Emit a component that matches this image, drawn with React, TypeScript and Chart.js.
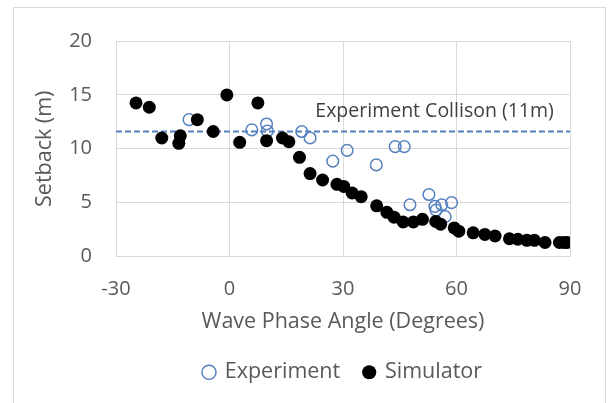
import React, { useEffect, useRef } from "react";
import { Chart, registerables } from "chart.js";

Chart.register(...registerables);

// ---- Data ----
const experimentX = [-10.7, 5.9, 9.8, 10.0, 19.1, 21.3, 27.3, 31.1, 38.8, 43.8, 46.2, 47.7, 52.7, 54.3, 54.6, 56.1, 57.0, 58.7];
const experimentY = [12.7, 11.75, 12.3, 11.65, 11.6, 11.0, 8.85, 9.85, 8.5, 10.2, 10.2, 4.8, 5.75, 4.65, 4.3, 4.8, 3.7, 5.0];

const simulatorX = [-24.7, -21.2, -17.9, -13.4, -13.0, -8.5, -4.3, -0.7, 2.7, 7.5, 9.8, 14.0, 15.7, 18.5, 21.3, 24.6, 28.4, 30.2, 32.4, 34.8, 38.9, 41.6, 43.5, 45.9, 48.6, 51.0, 54.5, 55.8, 59.4, 60.6, 64.4, 67.5, 70.2, 74.0, 76.2, 78.6, 80.6, 83.4, 87.2, 88.4, 89.2];
const simulatorY = [14.25, 13.85, 11.0, 10.5, 11.2, 12.7, 11.6, 15.0, 10.6, 14.25, 10.75, 11.0, 10.65, 9.2, 7.7, 7.1, 6.7, 6.5, 5.9, 5.55, 4.7, 4.1, 3.65, 3.2, 3.2, 3.45, 3.25, 3.0, 2.65, 2.35, 2.2, 2.05, 1.9, 1.65, 1.6, 1.5, 1.5, 1.3, 1.3, 1.3, 1.3];

const xTicks = [-30, 0, 30, 60, 90];
const yTicks = [0, 5, 10, 15, 20];

const collisionLevel = 11.6;
const collisionLineX = [-30, 90];
const collisionLabel = "Experiment Collison (11m)";
const collisionLabelX = 54.2;
const collisionLabelY = 13.45;

const seriesNames = ["Experiment", "Simulator"];
const xTitle = "Wave Phase Angle (Degrees)";
const yTitle = "Setback (m)";

// ---- Styles ----
const FONT = "'Open Sans', 'DejaVu Sans', sans-serif";
const TEXT = "#595959";
const GRID = "#d9d9d9";
const BLUE = "#5580c0";

const decorPlugin = {
  id: "decor",
  beforeDraw(chart: any) {
    const ctx = chart.ctx;
    ctx.save();
    ctx.fillStyle = "#ffffff";
    ctx.fillRect(0, 0, chart.width, chart.height);
    ctx.strokeStyle = GRID;
    ctx.lineWidth = 1;
    ctx.strokeRect(13.5, 7.5, 592, 420);
    ctx.restore();
  },
  afterDatasetsDraw(chart: any) {
    const ctx = chart.ctx;
    const xs = chart.scales.x;
    const ys = chart.scales.y;
    ctx.save();
    ctx.font = `19.5px ${FONT}`;
    ctx.fillStyle = "#404040";
    ctx.textAlign = "center";
    ctx.textBaseline = "middle";
    ctx.fillText(collisionLabel, xs.getPixelForValue(collisionLabelX), ys.getPixelForValue(collisionLabelY));
    ctx.restore();
  },
};

export default function App() {
  const canvasRef = useRef<HTMLCanvasElement | null>(null);

  useEffect(() => {
    if (!canvasRef.current) return;
    const chart = new Chart(canvasRef.current, {
      type: "scatter",
      data: {
        datasets: [
          {
            label: seriesNames[0],
            data: experimentX.map((x, i) => ({ x, y: experimentY[i] })),
            pointStyle: "circle",
            pointRadius: 5.8,
            pointHoverRadius: 5.8,
            borderWidth: 1.5,
            borderColor: BLUE,
            backgroundColor: "rgba(0,0,0,0)",
            order: 2,
          },
          {
            label: seriesNames[1],
            data: simulatorX.map((x, i) => ({ x, y: simulatorY[i] })),
            pointStyle: "circle",
            pointRadius: 6.5,
            pointHoverRadius: 6.5,
            borderWidth: 0,
            borderColor: "#000000",
            backgroundColor: "#000000",
            order: 1,
          },
          {
            type: "line",
            label: "collision",
            data: collisionLineX.map((x) => ({ x, y: collisionLevel })),
            borderColor: BLUE,
            borderWidth: 2,
            borderDash: [6, 3],
            pointRadius: 0,
            showLine: true,
            fill: false,
            order: 3,
          } as any,
        ],
      },
      options: {
        responsive: false,
        animation: false,
        layout: { padding: { left: 21, right: 38, top: 41, bottom: 10 } },
        plugins: {
          tooltip: { enabled: false },
          legend: {
            position: "bottom",
            fullSize: false,
            labels: {
              usePointStyle: true,
              boxWidth: 10,
              boxHeight: 10,
              padding: 24,
              color: TEXT,
              font: { family: FONT, size: 21.5 },
              filter: (item: any) => item.datasetIndex !== 2,
              sort: (a: any, b: any) => a.datasetIndex - b.datasetIndex,
            },
          },
        },
        scales: {
          x: {
            type: "linear",
            min: -30,
            max: 90,
            afterBuildTicks: (s: any) => {
              s.ticks = xTicks.map((v) => ({ value: v }));
            },
            afterFit: (s: any) => {
              s.height = 81;
            },
            ticks: { padding: 21, color: TEXT, font: { family: FONT, size: 20 } },
            grid: { color: GRID, drawTicks: false, lineWidth: 1 },
            border: { color: GRID },
            title: {
              display: true,
              text: xTitle,
              color: TEXT,
              font: { family: FONT, size: 21.5 },
              padding: { top: 4, bottom: 3 },
            },
          },
          y: {
            type: "linear",
            min: 0,
            max: 20,
            afterBuildTicks: (s: any) => {
              s.ticks = yTicks.map((v) => ({ value: v }));
            },
            afterFit: (s: any) => {
              s.width = 95;
            },
            ticks: { padding: 24, color: TEXT, font: { family: FONT, size: 20 } },
            grid: { color: GRID, drawTicks: false, lineWidth: 1 },
            border: { color: GRID },
            title: {
              display: true,
              text: yTitle,
              color: TEXT,
              font: { family: FONT, size: 21.5 },
              padding: { top: 11, bottom: 0 },
            },
          },
        },
      },
      plugins: [decorPlugin],
    });
    return () => chart.destroy();
  }, []);

  return (
    <div style={{ position: "absolute", left: 0, top: 0, width: 608, height: 403 }}>
      <canvas ref={canvasRef} width={608} height={403} style={{ display: "block" }} />
    </div>
  );
}
